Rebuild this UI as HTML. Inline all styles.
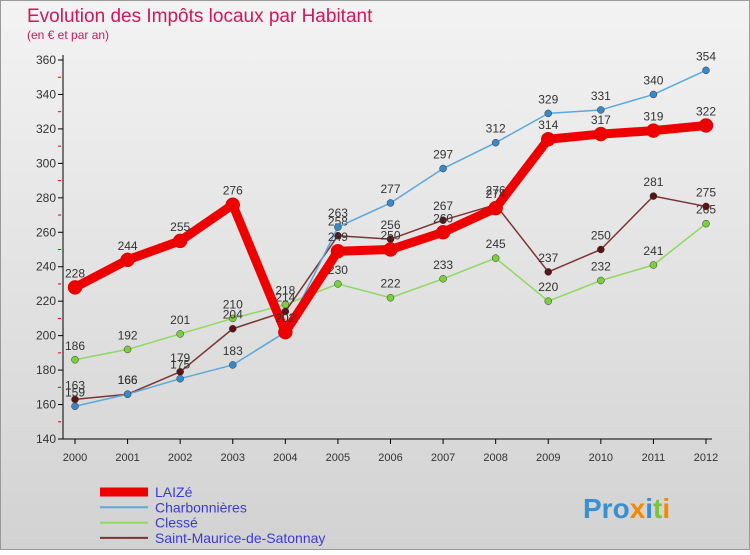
<!DOCTYPE html>
<html><head><meta charset="utf-8"><style>
body{margin:0;width:750px;height:550px;overflow:hidden;font-family:"Liberation Sans",sans-serif}
svg text{font-family:"Liberation Sans",sans-serif}
</style></head><body>
<svg id="c" width="750" height="550">
<defs><linearGradient id="bg" x1="0" y1="0" x2="0" y2="1"><stop offset="0" stop-color="#f3f3f3"/><stop offset="1" stop-color="#d2d2d2"/></linearGradient></defs>
<rect x="0.5" y="0.5" width="749" height="549" fill="url(#bg)" stroke="#999"/>
<text x="27" y="22" font-size="19" fill="#d2165a">Evolution des Impôts locaux par Habitant</text>
<text x="27" y="39" font-size="12" fill="#d2165a">(en € et par an)</text>
<g id="axes"></g><g id="series"></g><g id="legend"></g>
<text x="583" y="518" font-size="28" font-weight="bold" fill="#3a8fd0">Pro<tspan fill="#f08a00">x</tspan><tspan fill="#3a8fd0">i</tspan><tspan fill="#7cc23a">t</tspan><tspan fill="#f08a00">i</tspan></text>
</svg>
<script>
const years=["2000","2001","2002","2003","2004","2005","2006","2007","2008","2009","2010","2011","2012"];
const yTicks=[140,160,180,200,220,240,260,280,300,320,340,360];
const laize=[228,244,255,276,202,249,250,260,274,314,317,319,322];
const charbonnieres=[159,166,175,183,202,263,277,297,312,329,331,340,354];
const clesse=[186,192,201,210,218,230,222,233,245,220,232,241,265];
const stMaurice=[163,166,179,204,214,258,256,267,276,237,250,281,275];
const NS="http://www.w3.org/2000/svg";
const X=i=>75+i*(706-75)/12, Y=v=>439-(v-140)*(379/220);
function mk(t,a,p){const e=document.createElementNS(NS,t);for(const k in a)e.setAttribute(k,a[k]);p.appendChild(e);return e;}
const ax=document.getElementById('axes');
let e=mk('line',{x1:63,y1:55,x2:63,y2:439,stroke:'#000'},ax);


e=mk('line',{x1:63,y1:439,x2:712,y2:439,stroke:'#000'},ax);


yTicks.forEach(v=>{mk('line',{x1:58,x2:63,y1:Y(v),y2:Y(v),stroke:'#000'},ax);
 if(v<360)mk('line',{x1:58,x2:61,y1:Y(v+10),y2:Y(v+10),stroke:'#e00'},ax);
 const t=mk('text',{x:56,y:Y(v)+4,'font-size':12,'text-anchor':'end',fill:'#333'},ax);t.textContent=v;
 
 });
years.forEach((y,i)=>{mk('line',{x1:X(i),x2:X(i),y1:439,y2:444,stroke:'#000'},ax);
 const t=mk('text',{x:X(i),y:461,'font-size':11,'text-anchor':'middle',fill:'#333'},ax);t.textContent=y;
 
 });
const sg=document.getElementById('series');
const series=[
 {n:'clesse',d:clesse,c:'#8fd860',f:'#7ccf3c',w:1.5,r:3.5,l:'Clessé'},
 {n:'saint-maurice',d:stMaurice,c:'#7a3535',f:'#5a1414',w:1.5,r:3.5,l:'Saint-Maurice-de-Satonnay'},
 {n:'charbonnieres',d:charbonnieres,c:'#5aa8dc',f:'#3a88c8',w:1.5,r:3.5,l:'Charbonnières'},
 {n:'laize',d:laize,c:'#ee0000',f:'#ee0000',w:9,r:7,l:'LAIZé'}];
series.forEach(s=>{
 const g=mk('g',{},sg);
 const p=mk('polyline',{points:s.d.map((v,i)=>X(i)+','+Y(v)).join(' '),fill:'none',stroke:s.c,'stroke-width':s.w,'stroke-linejoin':'round'},g);
 
 
 s.d.forEach((v,i)=>{const c=mk('circle',{cx:X(i),cy:Y(v),r:s.r,fill:s.f,stroke:s.n=='laize'?'#c00':'#333','stroke-width':0.5},g);
  
  
  const t=mk('text',{x:X(i),y:Y(v)-10,'font-size':12,'text-anchor':'middle',fill:'#333'},g);t.textContent=v;
  
  });
});
const lg=document.getElementById('legend');
const order=[3,2,0,1];
order.forEach((k,j)=>{const s=series[k];const y=492+j*15.3;
 const g=mk('g',{},lg);
 mk('line',{x1:100,x2:148,y1:y,y2:y,stroke:s.c,'stroke-width':s.n=='laize'?9:2},g);
 const t=mk('text',{x:155,y:y+5,'font-size':14,fill:'#3b3bd0'},g);t.textContent=s.l;});
</script>
</body></html>
